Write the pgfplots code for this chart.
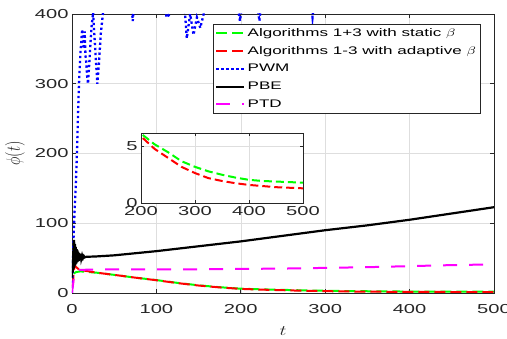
\documentclass[border=0pt]{standalone}
\usepackage{fontspec}
\setmainfont{Liberation Sans}[FakeStretch=1.55]
\usepackage{graphicx}
\usepackage{pgfplots}
\pgfplotsset{compat=1.18}
\definecolor{axgray}{gray}{0.15}
\definecolor{gridgray}{gray}{0.87}
\definecolor{mmag}{rgb}{1,0,1}
\definecolor{mgreen}{rgb}{0,1,0}
\definecolor{mred}{rgb}{1,0,0}
\definecolor{mblue}{rgb}{0,0,1}

\pgfplotstableread{
t v
2 28
5 30
10 31
20 30
30 29
50 26
75 22
100 18.5
125 14.5
150 11
175 8.3
200 6.15
225 5.2
250 4.5
275 3.7
300 3.2
325 2.8
350 2.5
375 2.25
400 2.05
425 1.95
450 1.9
475 1.85
500 1.8
}\greendata

\pgfplotstableread{
t v
1 10
2 30
3 40
5 37
8 34
10 33
20 31
30 29
50 26
75 22
100 18.3
125 14.2
150 10.7
175 8
200 5.9
225 4.8
250 4.0
275 3.2
300 2.65
325 2.2
350 1.95
375 1.75
400 1.6
425 1.5
450 1.4
475 1.35
500 1.3
}\reddata

\pgfplotstableread{
t v
0 0
1 40
2 85
3 115
4 140
5 170
6 205
7 250
8 290
9 320
10 345
11 360
12 378
13 365
14 350
15 375
16 340
17 330
18 310
19 300
21 340
23 380
25 402
27 360
29 320
30 300
32 330
34 370
37 405
40 450
60 470
68 450
72 390
76 450
105 470
112 395
116 400
120 450
130 470
136 365
140 400
144 370
148 395
152 380
156 400
160 450
190 460
199 390
205 450
215 460
222 390
228 450
280 460
285 395
290 450
500 470
}\bluedata

\pgfplotstableread{
t v
0 22
0.5 40
1 30
1.5 60
2 35
2.5 76
3 38
3.5 70
4 40
4.5 66
5 42
5.5 63
6 44
6.5 61
7 45
7.5 59
8 46
8.5 57
9 47
9.5 56
10 48
10.5 55
11 49
12 54
13 50
14 53
15 51
17 52
20 52
30 52.5
50 54
100 60
150 67
200 74
250 82
300 90
350 97
400 105
450 114
500 123
}\blackdata

\pgfplotstableread{
t v
0 0
1 10
2 20
3 28
4 31
5 32
8 33
20 33.5
50 34
100 34
150 34
200 34.5
250 35
300 36
350 37
400 38.5
450 40
500 41
}\magentadata

\begin{document}
\begin{tikzpicture}
\path[use as bounding box] (-72pt,-46pt) rectangle (435pt,293pt);
\begin{axis}[
  at={(0pt,0pt)}, anchor=south west,
  scale only axis, width=422pt, height=279pt,
  xmin=0, xmax=500, ymin=0, ymax=400,
  xtick={0,100,...,500}, ytick={0,100,...,400},
  grid=major, major grid style={gridgray, line width=0.5pt},
  axis line style={axgray, line width=0.6pt},
  tick style={axgray, line width=0.6pt}, tick align=inside, major tick length=4pt,
  ticklabel style={font=\fontsize{13}{14}\selectfont, text=axgray},
  xticklabel style={yshift=-8pt},
  /pgf/number format/assume math mode=true,
  xlabel={\scalebox{1.37}[1]{$t$}}, ylabel={\scalebox{1}[1.37]{$\phi(t)$}},
  label style={font=\fontsize{14}{15}\selectfont, text=axgray},
  xlabel style={at={(axis description cs:0.5,-0.136)}, anchor=center},
  ylabel style={at={(axis description cs:-0.135,0.5)}, anchor=center},
  legend cell align=left,
  legend style={at={(rel axis cs:0.967,0.964)}, anchor=north east,
    draw=axgray, line width=0.5pt, font=\fontsize{11}{12}\selectfont,
    row sep=4.6pt, inner sep=2pt},
  legend image code/.code={\draw[#1] (0pt,0pt) -- (28pt,0pt);},
]
\addplot[mgreen, line width=2pt, dash pattern=on 11pt off 5pt] table[x=t,y=v] {\greendata};
\addlegendentry{Algorithms 1+3 with static \scalebox{1.37}[1]{$\beta$}}
\addplot[mred, line width=2pt, dash pattern=on 11pt off 5pt] table[x=t,y=v] {\reddata};
\addlegendentry{Algorithms 1-3 with adaptive \scalebox{1.37}[1]{$\beta$}}
\addplot[mblue, line width=2.3pt, dash pattern=on 2.3pt off 2.7pt] table[x=t,y=v] {\bluedata};
\addlegendentry{PWM}
\addplot[black, line width=2.2pt] table[x=t,y=v] {\blackdata};
\addlegendentry{PBE}
\addplot[mmag, line width=2pt, dash pattern=on 14pt off 12pt] table[x=t,y=v] {\magentadata};
\addlegendentry{PTD}
\end{axis}
\begin{axis}[
  at={(69pt,90pt)}, anchor=south west,
  scale only axis, width=162pt, height=70pt,
  xmin=200, xmax=500, ymin=0, ymax=6.2,
  xtick={200,300,400,500}, ytick={0,5},
  grid=major, major grid style={gridgray, line width=0.5pt},
  axis background/.style={fill=white},
  axis line style={axgray, line width=0.6pt},
  tick style={axgray, line width=0.6pt}, tick align=inside, major tick length=3pt,
  ticklabel style={font=\fontsize{13}{14}\selectfont, text=axgray},
  /pgf/number format/assume math mode=true,
]
\addplot[mgreen, line width=2pt, dash pattern=on 8pt off 4pt] table[x=t,y=v] {\greendata};
\addplot[mred, line width=2pt, dash pattern=on 8pt off 4pt] table[x=t,y=v] {\reddata};
\end{axis}
\end{tikzpicture}
\end{document}
